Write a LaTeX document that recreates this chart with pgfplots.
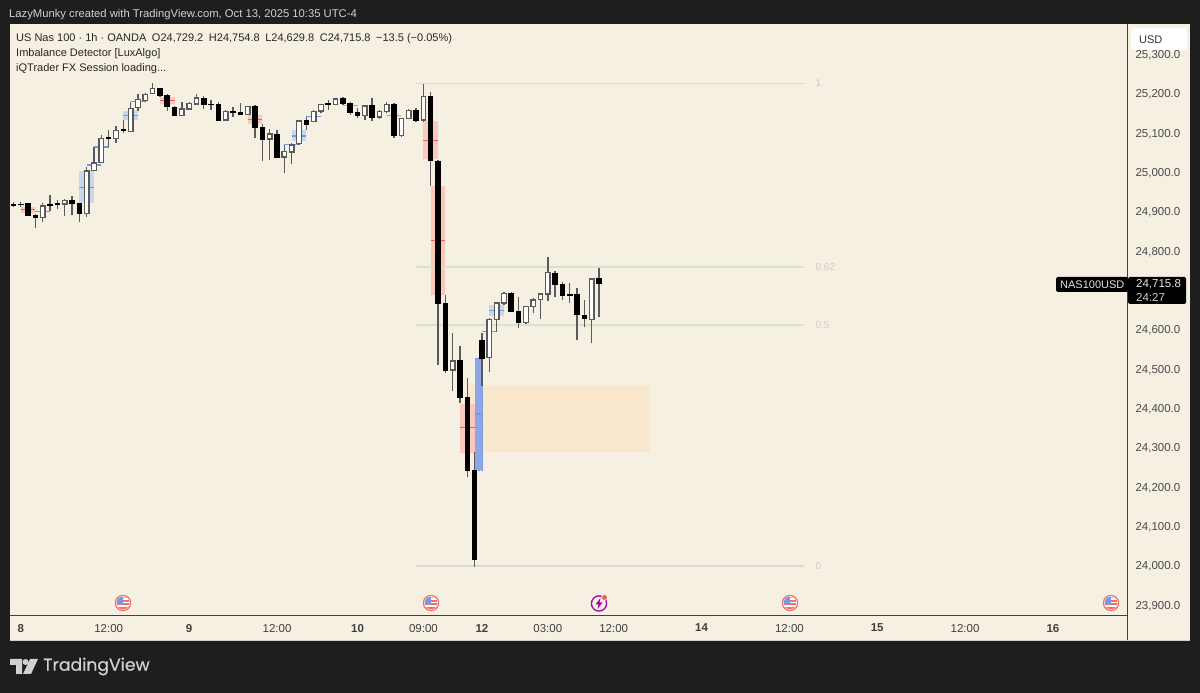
\documentclass[border=0pt]{standalone}
\usepackage{fontspec}
\setmainfont{Liberation Sans}
\newfontfamily\wordmark[FakeBold=0.4]{Poppins}
\usepackage{pgfplots}
\pgfplotsset{compat=1.18}
\definecolor{frame}{HTML}{1E1E1E}
\definecolor{cream}{HTML}{F6F0E3}
\definecolor{zpink}{HTML}{FBC8BC}
\definecolor{zblue}{HTML}{C9D7EC}
\definecolor{bigblue}{HTML}{8EA6E4}
\definecolor{zorange}{HTML}{FAE8CE}
\definecolor{midred}{HTML}{EF5B66}
\definecolor{midblue}{HTML}{6E9AE9}
\definecolor{fibgreen}{HTML}{D6E3CE}
\definecolor{fibgrey}{HTML}{D8DBCE}
\definecolor{wick}{HTML}{5A5A5A}
\definecolor{scaletxt}{HTML}{4A4A4A}
\definecolor{flagred}{HTML}{F0706C}

% x low bottom top high
\newcommand{\bull}[5]{%
  \pgfmathsetmacro{\xl}{#1-0.31}\pgfmathsetmacro{\xr}{#1+0.31}%
  \addplot[wick, line width=1.35pt] coordinates {(#1,#2) (#1,#5)};
  \addplot[draw=wick, fill=white, line width=1.25pt] coordinates {(\xl,#3) (\xr,#3) (\xr,#4) (\xl,#4) (\xl,#3) (\xr,#3)};
}
\newcommand{\bear}[5]{%
  \pgfmathsetmacro{\xl}{#1-0.31}\pgfmathsetmacro{\xr}{#1+0.31}%
  \addplot[wick, line width=1.35pt] coordinates {(#1,#2) (#1,#5)};
  \addplot[draw=black, fill=black, line width=1pt] coordinates {(\xl,#3) (\xr,#3) (\xr,#4) (\xl,#4) (\xl,#3) (\xr,#3)};
}
% x0 x1 bottom top colour
\newcommand{\zone}[5]{\addplot[fill=#5, draw=none] coordinates {(#1,#3) (#2,#3) (#2,#4) (#1,#4)};}
% x0 x1 y colour
\newcommand{\level}[4]{\addplot[#4, line width=1.3pt] coordinates {(#1,#3) (#2,#3)};}

\newcommand{\usflag}[2]{%
  \fill[white] (#1,#2) circle (7.6);
  \begin{scope}
    \clip (#1,#2) circle (6.4);
    \fill[flagred] (#1-7,#2+0.5) rectangle (#1+7,#2+2.5);
    \fill[flagred] (#1-7,#2+4.5) rectangle (#1+7,#2+7);
    \fill[flagred] (#1,#2-2.5) rectangle (#1+7,#2-0.8);
    \fill[flagred!60] (#1,#2-6) rectangle (#1+7,#2-4.5);
    \fill[midblue] (#1-7,#2-7) rectangle (#1,#2+0.2);
  \end{scope}
  \draw[flagred, line width=1.2pt] (#1,#2) circle (7.6);
}

\begin{document}
\begin{tikzpicture}
\begin{scope}[x=1pt,y=-1pt,yshift=693pt]
\fill[frame] (0,0) rectangle (1200,693);
\fill[cream] (10,24) rectangle (1190,640);
\end{scope}

\begin{axis}[
  at={(10pt,78pt)}, anchor=south west,
  scale only axis, width=1117pt, height=591pt,
  xmin=-0.478, xmax=152.12,
  ymin=23873.4, ymax=25375.3,
  axis x line*=bottom, axis y line*=right,
  axis line style={draw=black!75, line width=0.9pt, -},
  major tick length=0pt,
  xtick={1,13,24,36,47,56,64,73,82,94,106,118,130,142},
  xticklabels={\textbf{8},12:00,\textbf{9},12:00,\textbf{10},09:00,\textbf{12},03:00,12:00,\textbf{14},12:00,\textbf{15},12:00,\textbf{16}},
  ytick={23900,24000,24100,24200,24300,24400,24500,24600,24800,24900,25000,25100,25200,25300},
  scaled y ticks=false,
  /pgf/number format/fixed,
  /pgf/number format/fixed zerofill,
  /pgf/number format/precision=1,
  /pgf/number format/1000 sep={,},
  /pgf/number format/assume math mode=true,
  tick label style={font=\fontsize{11.5}{13}\selectfont, text=scaletxt},
  x tick label style={yshift=-5.5pt, text=black!75},
  y tick label style={xshift=5pt, yshift=-1.5pt},
]
% supply/demand areas
\zone{62.1}{86.95}{24288}{24457}{zorange}
\zone{1}{3}{24896}{24911}{zpink}
\zone{9}{11}{24920}{25002}{zblue}
\zone{15}{17}{25131}{25154}{zblue}
\zone{20}{22}{25172}{25189}{zpink}
\zone{32}{34}{25121}{25144}{zpink}
\zone{38}{40}{25079}{25106}{zblue}
\zone{65}{67}{24633}{24660}{zblue}
\zone{56}{58}{25031}{25129}{zpink}
\zone{57}{59}{24687}{24964}{zpink}
\zone{61}{63}{24286}{24410}{zpink}
\addplot[fill=bigblue, draw=midblue, densely dotted, line width=0.5pt] coordinates {(63,24242) (64.1,24242) (64.1,24526) (63,24526)};
% mid lines
\level{1}{3}{24903}{midred}
\level{3}{5}{24898}{midblue}
\level{9}{11}{24960}{midblue}
\level{10}{12}{25017}{midblue}
\level{11}{13}{25063}{midblue}
\level{15}{17}{25142}{midblue}
\level{16}{18}{25178}{midblue}
\level{20}{22}{25180}{midred}
\level{32}{34}{25132}{midred}
\level{37}{39}{25069}{midblue}
\level{38}{40}{25091}{midblue}
\level{40}{42}{25140}{midblue}
\level{45}{47}{25168}{midred!70}
\level{51}{53}{25142}{midred!70}
\level{56}{58}{25080}{midred}
\level{57}{59}{24825}{midred}
\level{61}{63}{24349}{midred}
\level{64}{66}{24593}{midblue}
\level{65}{67}{24647}{midblue}
\addplot[black!45, densely dotted, line width=1.2pt] coordinates {(63,24384) (64.1,24384)};
% fib levels
\addplot[fibgrey, line width=1.6pt] coordinates {(55,25224) (108,25224)};
\addplot[fibgreen, line width=1.6pt] coordinates {(55,24758) (108,24758)};
\addplot[fibgreen, line width=1.6pt] coordinates {(55,24610) (108,24610)};
\addplot[fibgrey, line width=1.6pt] coordinates {(55,23998) (108,23998)};
\node[anchor=west, text=black!20, font=\fontsize{10}{12}\selectfont] at (axis cs:109.1,25224) {1};
\node[anchor=west, text=black!20, font=\fontsize{10}{12}\selectfont] at (axis cs:109.1,24758) {0.62};
\node[anchor=west, text=black!20, font=\fontsize{10}{12}\selectfont] at (axis cs:109.1,24610) {0.5};
\node[anchor=west, text=black!20, font=\fontsize{10}{12}\selectfont] at (axis cs:109.1,23998) {0};
% candles
\bear{0}{24910}{24915}{24916}{24922}
\bear{1}{24910}{24916}{24917}{24923}
\bear{2}{24888}{24888}{24918}{24918}
\bear{3}{24857}{24883}{24888}{24892}
\bull{4}{24871}{24883}{24913}{24920}
\bear{5}{24900}{24913}{24917}{24941}
\bear{6}{24905}{24916}{24918}{24928}
\bull{7}{24888}{24918}{24927}{24930}
\bear{8}{24889}{24920}{24927}{24937}
\bear{9}{24873}{24893}{24918}{24920}
\bull{10}{24886}{24894}{25002}{25013}
\bull{11}{25003}{25003}{25022}{25062}
\bull{12}{25021}{25024}{25084}{25092}
\bear{13}{25062}{25084}{25086}{25106}
\bull{14}{25074}{25085}{25105}{25116}
\bear{15}{25099}{25104}{25106}{25131}
\bull{16}{25103}{25103}{25160}{25177}
\bull{17}{25155}{25163}{25184}{25198}
\bull{18}{25176}{25181}{25197}{25201}
\bull{19}{25197}{25198}{25211}{25225}
\bear{20}{25191}{25194}{25211}{25211}
\bear{21}{25154}{25165}{25194}{25198}
\bear{22}{25141}{25142}{25164}{25167}
\bull{23}{25141}{25142}{25159}{25176}
\bull{24}{25157}{25159}{25173}{25176}
\bull{25}{25170}{25172}{25187}{25197}
\bear{26}{25159}{25170}{25187}{25192}
\bear{27}{25157}{25170}{25171}{25181}
\bear{28}{25128}{25131}{25171}{25176}
\bull{29}{25129}{25131}{25152}{25157}
\bear{30}{25140}{25151}{25153}{25165}
\bear{31}{25145}{25146}{25151}{25174}
\bull{32}{25144}{25146}{25165}{25167}
\bear{33}{25086}{25112}{25165}{25170}
\bear{34}{25026}{25083}{25111}{25121}
\bull{35}{25030}{25083}{25096}{25108}
\bear{36}{25034}{25037}{25095}{25106}
\bull{37}{24996}{25037}{25051}{25068}
\bull{38}{25019}{25050}{25068}{25072}
\bull{39}{25068}{25071}{25129}{25130}
\bear{40}{25106}{25120}{25130}{25140}
\bull{41}{25125}{25127}{25153}{25157}
\bull{42}{25148}{25154}{25170}{25172}
\bear{43}{25157}{25171}{25172}{25181}
\bull{44}{25169}{25170}{25185}{25187}
\bear{45}{25170}{25172}{25186}{25189}
\bear{46}{25145}{25151}{25172}{25176}
\bear{47}{25136}{25142}{25151}{25163}
\bull{48}{25131}{25142}{25167}{25170}
\bear{49}{25130}{25137}{25167}{25188}
\bull{50}{25135}{25139}{25153}{25157}
\bull{51}{25148}{25153}{25171}{25176}
\bear{52}{25086}{25091}{25171}{25174}
\bull{53}{25089}{25091}{25135}{25137}
\bull{54}{25134}{25136}{25156}{25159}
\bear{55}{25127}{25131}{25155}{25161}
\bull{56}{25127}{25131}{25191}{25223}
\bear{57}{24964}{25028}{25191}{25203}
\bear{58}{24509}{24666}{25025}{25030}
\bear{59}{24488}{24496}{24664}{24687}
\bull{60}{24443}{24496}{24519}{24590}
\bear{61}{24412}{24427}{24520}{24557}
\bear{62}{24224}{24240}{24427}{24476}
\bear{63}{23996}{24015}{24240}{24288}
\bear{64}{24455}{24526}{24572}{24591}
\bull{65}{24492}{24527}{24625}{24628}
\bull{66}{24593}{24625}{24666}{24670}
\bull{67}{24661}{24666}{24690}{24694}
\bear{68}{24643}{24644}{24691}{24694}
\bear{69}{24602}{24616}{24644}{24682}
\bull{70}{24613}{24616}{24657}{24659}
\bull{71}{24640}{24657}{24674}{24680}
\bull{72}{24626}{24676}{24689}{24692}
\bull{73}{24672}{24689}{24743}{24784}
\bear{74}{24681}{24713}{24742}{24748}
\bear{75}{24674}{24685}{24713}{24719}
\bear{76}{24666}{24686}{24689}{24716}
\bear{77}{24572}{24636}{24689}{24705}
\bear{78}{24606}{24626}{24635}{24674}
\bull{79}{24564}{24625}{24727}{24730}
\bear{80}{24629.8}{24715.8}{24729.2}{24754.8}
\end{axis}

\begin{scope}[x=1pt,y=-1pt,yshift=693pt]
\draw[black!18, line width=0.8pt] (10,640) -- (1190,640);
\draw[black!75, line width=0.9pt] (1127,615) -- (1127,640);
% header and legend
\node[anchor=west, inner sep=0, text=white!82!black, font=\fontsize{11.25}{13}\selectfont] at (9,14.5) {LazyMunky created with TradingView.com, Oct 13, 2025 10:35 UTC-4};
\node[anchor=west, inner sep=0, text=black!85, font=\fontsize{11}{13}\selectfont] at (16,38.5) {US Nas 100 · 1h · OANDA\hspace{5.6pt}O24,729.2\hspace{5.6pt}H24,754.8\hspace{5.6pt}L24,629.8\hspace{5.6pt}C24,715.8\hspace{5.6pt}−13.5 (−0.05\%)};
\node[anchor=west, inner sep=0, text=black!85, font=\fontsize{11}{13}\selectfont] at (16,53.5) {Imbalance Detector [LuxAlgo]};
\node[anchor=west, inner sep=0, text=black!85, font=\fontsize{11}{13}\selectfont] at (16,68.5) {iQTrader FX Session loading...};
% scale widgets
\fill[white, rounded corners=3pt] (1131,28) rectangle (1187,50);
\node[anchor=west, inner sep=0, text=black!80, font=\fontsize{11}{13}\selectfont] at (1139,39.5) {USD};
\fill[black, rounded corners=1.5pt] (1056,277) rectangle (1128,292);
\node[anchor=west, inner sep=0, text=white!88!black, font=\fontsize{11}{13}\selectfont] at (1060,285) {NAS100USD};
\fill[black, rounded corners=1.5pt] (1128,277) rectangle (1186,304);
\node[anchor=west, inner sep=0, text=white!90!black, font=\fontsize{11.5}{13}\selectfont] at (1136,284.5) {24,715.8};
\node[anchor=west, inner sep=0, text=white!80!black, font=\fontsize{11.5}{13}\selectfont] at (1136,297.5) {24:27};
% event icons
\usflag{123}{603}
\usflag{431}{603}
\usflag{790}{603}
\usflag{1111}{603}
\draw[violet!70!magenta, line width=1.3pt] (599,603.5) circle (7.6);
\fill[violet!70!magenta] (600.5,598) -- (595.5,604.5) -- (598.5,604.5) -- (597.5,609) -- (602.5,602.5) -- (599.5,602.5) -- cycle;
\fill[cream] (604.5,597.5) circle (3.4);
\fill[midred] (604.5,597.5) circle (2.5);
% watermark
\fill[white!82!black] (10,659) -- (22,659) -- (22,674) -- (16,674) -- (16,665) -- (10,665) -- cycle;
\fill[white!82!black] (25.5,662) circle (3);
\fill[white!82!black] (30,659) -- (38,659) -- (31,674) -- (23,674) -- cycle;
\node[anchor=west, inner sep=0, text=white!82!black, font=\wordmark\fontsize{17.2}{20}\selectfont] at (43,666.5) {TradingView};
\end{scope}
\end{tikzpicture}
\end{document}
